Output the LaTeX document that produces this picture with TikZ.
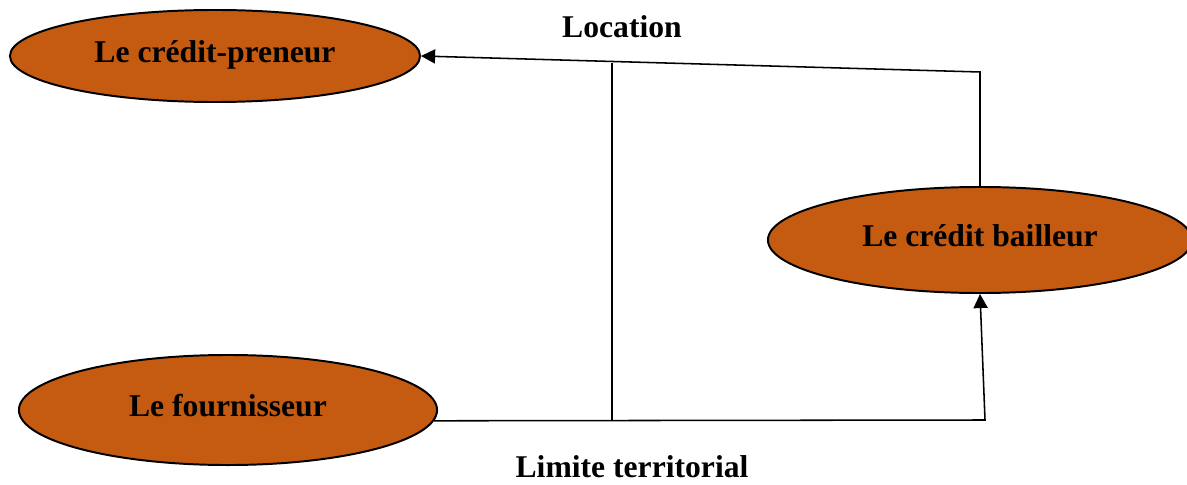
\documentclass[tikz,border=0pt]{standalone}
\usepackage{fontspec}
\setmainfont{Liberation Serif}
\usetikzlibrary{shapes.geometric,arrows.meta}
\definecolor{rouille}{HTML}{C55A11}
\begin{document}
\begin{tikzpicture}[x=0.025cm, y=-0.025cm,
    acteur/.style={ellipse, draw, line width=1.4pt, fill=rouille, inner sep=0pt, text depth=0.6em, font=\bfseries\fontsize{22.5}{27}\selectfont},
    lien/.style={line width=1.1pt},
    fleche/.style={lien, -{Triangle[length=10pt, width=10pt]}},
    titre/.style={font=\bfseries\fontsize{22.5}{27}\selectfont}]
    \useasboundingbox (0,0) rectangle (1187,485);
    \node[acteur, minimum width=10.25cm, minimum height=2.3cm] (preneur) at (215,56) {Le crédit-preneur};
    \node[acteur, minimum width=10.45cm, minimum height=2.75cm] (fournisseur) at (228,410) {Le fournisseur};
    \node[acteur, minimum width=10.6cm, minimum height=2.65cm] (bailleur) at (980,240) {Le crédit bailleur};
    \node[titre] (location) at (622,27) {Location};
    \node[titre] (limite) at (632,467) {Limite territorial};
    \coordinate (haut) at (980,72);
    \coordinate (pivot) at (612,63);
    \coordinate (bas) at (612,420);
    \coordinate (coin) at (985,420);
    \draw[fleche] (bailleur.north) -- (haut) -- (preneur.east);
    \draw[lien] (pivot) -- (bas);
    \draw[fleche] (fournisseur.-3.3) -- (coin) -- (bailleur.south);
\end{tikzpicture}
\end{document}
